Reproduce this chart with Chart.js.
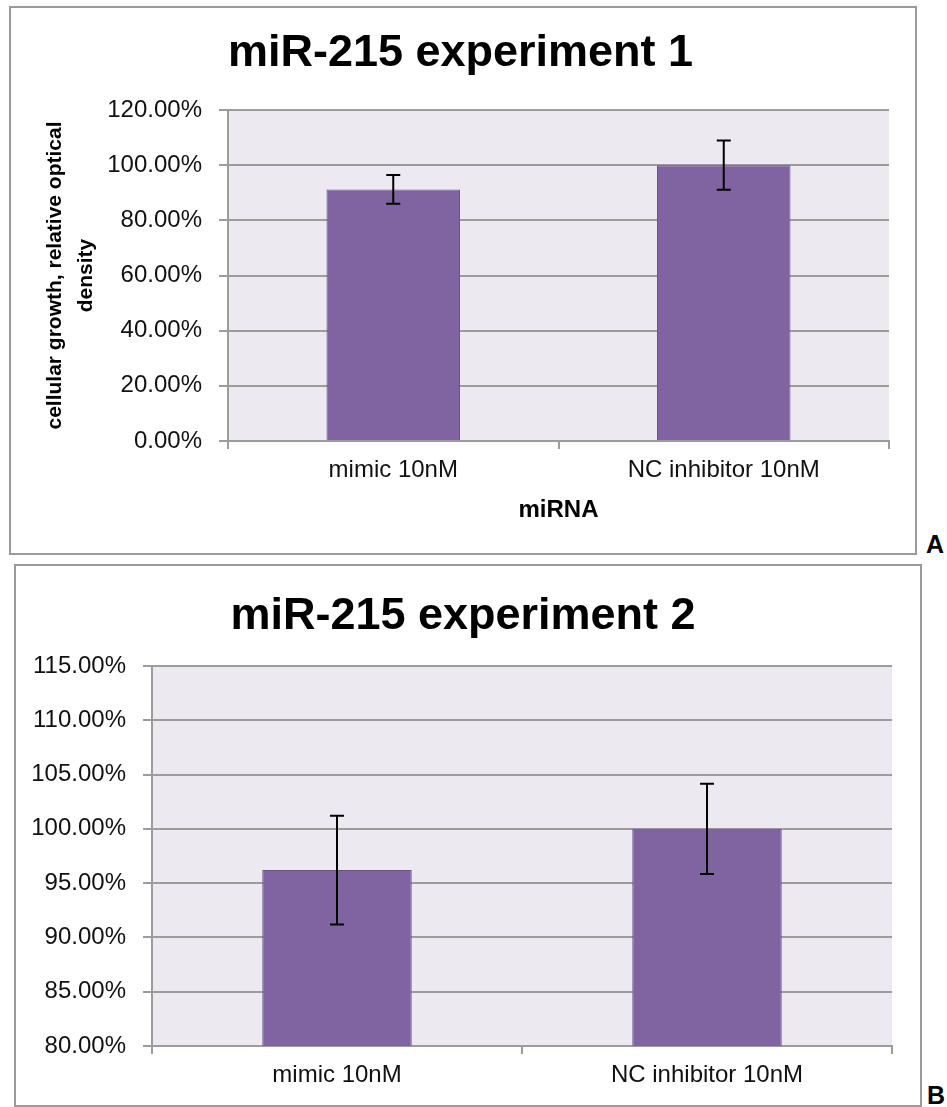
<!DOCTYPE html>
<html>
<head>
<meta charset="utf-8">
<script src="https://cdn.jsdelivr.net/npm/chart.js@4.4.1/dist/chart.umd.min.js"></script>
<style>
  html, body { margin: 0; padding: 0; background: #ffffff; }
  body { width: 947px; height: 1107px; position: relative; overflow: hidden; }
  .panel { position: absolute; box-sizing: border-box; border: 2px solid #9a9a9a; background: #fff; }
  .panel canvas { display: block; }
  .tag { position: absolute; font: bold 25px "Liberation Sans", Arial, sans-serif; color: #000; }
</style>
</head>
<body>
<div class="panel" style="left:9px; top:6px; width:908px; height:549px;">
  <canvas id="chartA" width="904" height="545"></canvas>
</div>
<div class="tag" style="left:926px; top:530px;">A</div>
<div class="panel" style="left:14px; top:564px; width:908px; height:543px;">
  <canvas id="chartB" width="904" height="539"></canvas>
</div>
<div class="tag" style="left:927px; top:1081px;">B</div>
<script>
// Experiment 1: relative optical density (%) with error bar half-widths
const categories = ['mimic 10nM', 'NC inhibitor 10nM'];
const exp1Values = [91.2, 100.0];
const exp1Errors = [5.2, 8.9];
const exp1TickLabels = ['0.00%', '20.00%', '40.00%', '60.00%', '80.00%', '100.00%', '120.00%'];

// Experiment 2
const exp2Values = [96.2, 100.0];
const exp2Errors = [5.0, 4.15];
const exp2TickLabels = ['80.00%', '85.00%', '90.00%', '95.00%', '100.00%', '105.00%', '110.00%', '115.00%'];

Chart.defaults.font.family = '"Liberation Sans", Arial, sans-serif';
Chart.defaults.color = '#111';

const BAR_FILL = '#8064A2';
const BAR_EDGE = '#6a5191';
const GRID = '#9c9c9c';
const PLOT_BG = '#ECEAF0';

// Shaded plotting area behind the bars
const plotBackground = {
  id: 'plotBackground',
  beforeDraw(chart) {
    const { ctx, chartArea: a } = chart;
    ctx.save();
    ctx.fillStyle = PLOT_BG;
    ctx.fillRect(a.left, a.top, a.right - a.left, a.bottom - a.top);
    ctx.restore();
  }
};

// Symmetric error bars with caps, positioned through the value scale
const errorBars = {
  id: 'errorBars',
  afterDatasetsDraw(chart, args, opts) {
    const errs = opts.errors || [];
    const { ctx } = chart;
    const yScale = chart.scales.y;
    const meta = chart.getDatasetMeta(0);
    const values = chart.data.datasets[0].data;
    ctx.save();
    ctx.strokeStyle = '#000';
    ctx.lineWidth = 2;
    meta.data.forEach((bar, i) => {
      const x = bar.x;
      const yTop = yScale.getPixelForValue(values[i] + errs[i]);
      const yBot = yScale.getPixelForValue(values[i] - errs[i]);
      const cap = 7;
      ctx.beginPath();
      ctx.moveTo(x, yTop); ctx.lineTo(x, yBot);
      ctx.moveTo(x - cap, yTop); ctx.lineTo(x + cap, yTop);
      ctx.moveTo(x - cap, yBot); ctx.lineTo(x + cap, yBot);
      ctx.stroke();
    });
    ctx.restore();
  }
};

function makeChart(id, cfg) {
  const yTitle = cfg.yTitle
    ? { display: true, text: cfg.yTitle, color: '#000',
        font: { size: 21, weight: 'bold', lineHeight: 1.48 },
        padding: { top: 29, bottom: 0 } }
    : { display: false };
  const xTitle = cfg.xTitle
    ? { display: true, text: cfg.xTitle, color: '#000',
        font: { size: 24, weight: 'bold', lineHeight: 1.2 },
        padding: { top: 0, bottom: 28.6 } }
    : { display: false };

  return new Chart(document.getElementById(id), {
    type: 'bar',
    data: {
      labels: categories,
      datasets: [{
        data: cfg.values,
        backgroundColor: BAR_FILL,
        borderColor: BAR_EDGE,
        borderWidth: 1,
        categoryPercentage: 1.0,
        barPercentage: 0.404
      }]
    },
    options: {
      responsive: false,
      animation: false,
      devicePixelRatio: 1,
      layout: { padding: { left: 0, right: cfg.padRight, top: 0, bottom: 0 } },
      plugins: {
        legend: { display: false },
        tooltip: { enabled: false },
        title: {
          display: true,
          text: cfg.title,
          color: '#000',
          font: { size: 45, weight: 'bold', lineHeight: 1.2 },
          padding: { top: cfg.titleTop, bottom: cfg.titleBottom }
        },
        errorBars: { errors: cfg.errors }
      },
      scales: {
        x: {
          grid: { offset: true, drawOnChartArea: false, drawTicks: true, tickLength: 8, color: GRID, lineWidth: 2 },
          border: { display: true, color: GRID, width: 2 },
          ticks: { font: { size: 24 }, padding: 7, color: '#111' },
          title: xTitle,
          afterFit(s) { s.height = cfg.xAxisHeight; }
        },
        y: {
          min: cfg.min,
          max: cfg.max,
          ticks: {
            stepSize: cfg.step,
            font: { size: 24 },
            padding: 17,
            color: '#111',
            callback: (v, i) => cfg.tickLabels[i]
          },
          grid: { color: GRID, lineWidth: 2, tickLength: 9 },
          border: { display: true, color: GRID, width: 2 },
          title: yTitle,
          afterFit(s) { s.width = cfg.yAxisWidth; }
        },
        // blank right-hand margin strip beside the plot area
        margin: {
          type: 'linear',
          position: 'right',
          grid: { display: false },
          border: { display: false },
          ticks: { display: false },
          afterFit(s) { s.width = cfg.rightStrip; }
        }
      }
    },
    plugins: [plotBackground, errorBars]
  });
}

makeChart('chartA', {
  title: 'miR-215 experiment 1',
  values: exp1Values,
  errors: exp1Errors,
  tickLabels: exp1TickLabels,
  min: 0, max: 120, step: 20,
  yTitle: ['cellular growth, relative optical', 'density'],
  xTitle: 'miRNA',
  titleTop: 18.7, titleBottom: 29.3,
  padRight: 5,
  rightStrip: 21,
  yAxisWidth: 217,
  xAxisHeight: 112
});

makeChart('chartB', {
  title: 'miR-215 experiment 2',
  values: exp2Values,
  errors: exp2Errors,
  tickLabels: exp2TickLabels,
  min: 80, max: 115, step: 5,
  yTitle: null,
  xTitle: null,
  titleTop: 23.2, titleBottom: 22.8,
  padRight: 10,
  rightStrip: 18,
  yAxisWidth: 136,
  xAxisHeight: 59
});
</script>
</body>
</html>
